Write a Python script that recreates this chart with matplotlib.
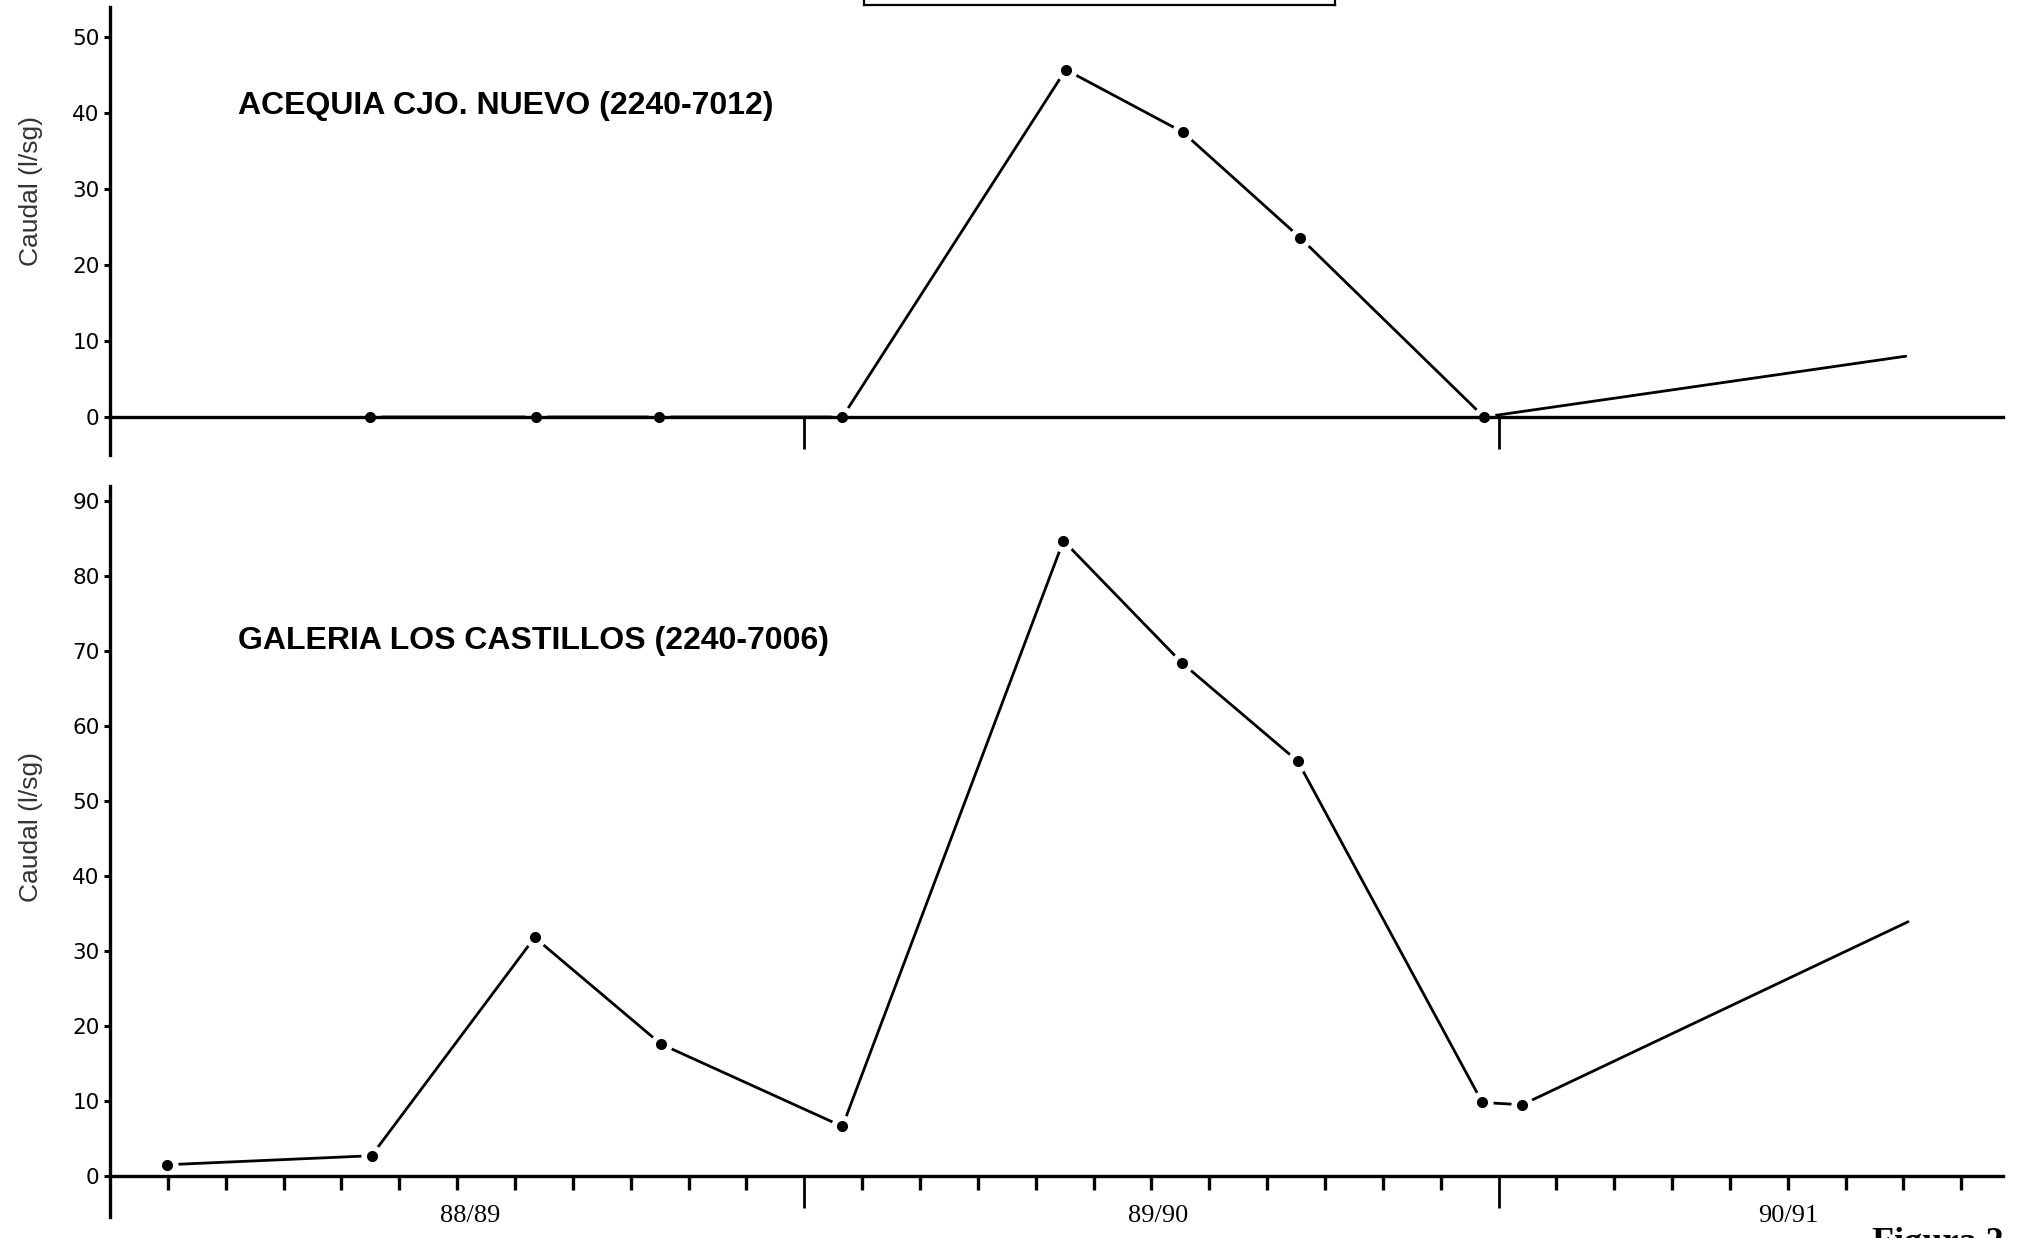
import matplotlib
matplotlib.use("Agg")
import matplotlib.pyplot as plt
from matplotlib.lines import Line2D

# ---------------- data (x in months from start of 88/89) ----------------
top_title = "ACEQUIA CJO. NUEVO (2240-7012)"
top_x = [4.5, 7.37, 9.49, 12.66, 16.52, 18.54, 20.57, 23.75, 31.04]
top_y = [0.0, 0.0, 0.0, 0.0, 45.7, 37.5, 23.6, 0.0, 8.0]

bot_title = "GALERIA LOS CASTILLOS (2240-7006)"
bot_x = [0.99, 4.52, 7.34, 9.52, 12.66, 16.48, 18.53, 20.53, 23.72, 24.41, 31.08]
bot_y = [1.5, 2.7, 31.8, 17.6, 6.6, 84.7, 68.4, 55.3, 9.8, 9.5, 33.9]

year_labels = ["88/89", "89/90", "90/91"]
year_label_pos = [6.23, 18.12, 29.0]
year_bounds = [12, 24]
month_ticks = [m for m in range(1, 33) if m not in (12, 24)]

top_yticks = [0, 10, 20, 30, 40, 50]
bot_yticks = [0, 10, 20, 30, 40, 50, 60, 70, 80, 90]
ylabel = "Caudal (l/sg)"

W, H = 2019, 1238
fig = plt.figure(figsize=(W / 100, H / 100), dpi=100)

XMAX = 32.72
LEFT = 110 / W
WIDTH = (2003 - 110) / W

ax1 = fig.add_axes([LEFT, 1 - 455 / H, WIDTH, 448 / H])
ax2 = fig.add_axes([LEFT, 1 - 1217 / H, WIDTH, 731 / H])

tickfont = dict(family="DejaVu Sans", size=15.5)


def style(ax, ymin, ymax, yticks):
    ax.set_xlim(0, XMAX)
    ax.set_ylim(ymin, ymax)
    for s in ("top", "right"):
        ax.spines[s].set_visible(False)
    ax.spines["bottom"].set_position(("data", 0))
    ax.spines["left"].set_linewidth(2.4)
    ax.spines["bottom"].set_linewidth(2.4)
    ax.set_yticks(yticks)
    ax.set_yticklabels([str(v) for v in yticks], fontdict=tickfont)
    ax.tick_params(axis="y", direction="out", length=4.5, width=2.2, pad=3)
    ax.set_xticks(year_bounds)
    ax.set_xticklabels([])
    ax.tick_params(axis="x", which="major", direction="out", length=23, width=2.0)
    ax.patch.set_alpha(0)


def draw_series(ax, xs, ys):
    ax.plot(xs, ys, color="black", lw=2.0, zorder=2, solid_capstyle="round")
    xm, ym = xs[:-1], ys[:-1]
    ax.plot(xm, ym, "o", ms=16, color="white", mec="none", zorder=2.2)
    ax.plot(xm, ym, "o", ms=8, color="black", mec="none", zorder=3)


# top panel
style(ax1, -5.0, 53.95, top_yticks)
draw_series(ax1, top_x, top_y)
ax1.text(2.21, 39.9, top_title, family="Liberation Sans", weight="bold",
         fontsize=23, ha="left", va="baseline")

# bottom panel
style(ax2, -5.47, 92.0, bot_yticks)
ax2.set_xticks(month_ticks, minor=True)
ax2.tick_params(axis="x", which="minor", direction="out", length=10, width=2.4)
draw_series(ax2, bot_x, bot_y)
ax2.text(2.21, 70.3, bot_title, family="Liberation Sans", weight="bold",
         fontsize=23, ha="left", va="baseline")
for lab, pos in zip(year_labels, year_label_pos):
    ax2.text(pos, -3.9, lab, family="Liberation Serif", fontsize=19,
             ha="center", va="top")

# y labels
fig.text(31 / W, 1 - 191 / H, ylabel, rotation=90, family="Liberation Sans",
         fontsize=19, ha="center", va="center", color="#333333")
fig.text(31 / W, 1 - 827 / H, ylabel, rotation=90, family="Liberation Sans",
         fontsize=19, ha="center", va="center", color="#333333")

# partial box at top
bx0, bx1, by = 864 / W, 1335 / W, 1 - 4.6 / H
for xs, ys in [([bx0, bx1], [by, by]), ([bx0, bx0], [by, 1.01]), ([bx1, bx1], [by, 1.01])]:
    fig.add_artist(Line2D(xs, ys, transform=fig.transFigure, color="black", lw=1.6))

# cut-off caption (partly outside the page, as in the reference)
fig.text(1872 / W, 1 - 1252 / H, "Figura 2", family="Liberation Serif",
         weight="bold", fontsize=26, ha="left", va="baseline")

fig.savefig("out.png", dpi=100, facecolor="white")
